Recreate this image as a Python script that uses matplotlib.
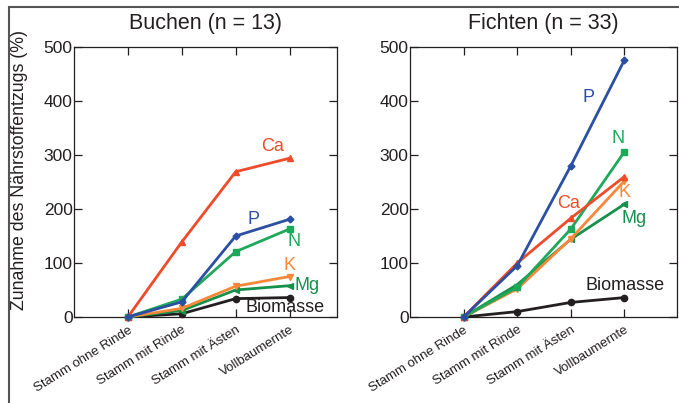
import matplotlib.pyplot as plt
from matplotlib.patches import Rectangle

plt.rcParams["font.family"] = ["Liberation Sans", "DejaVu Sans"]

stages = ["Stamm ohne Rinde", "Stamm mit Rinde", "Stamm mit Ästen", "Vollbaumernte"]
x_pos = [0, 1, 2, 3]

# Buchen (n = 13)
buchen = {
    "Ca": [0, 139, 269, 294],
    "P": [0, 28, 150, 181],
    "N": [0, 33, 121, 163],
    "K": [0, 16, 57, 75],
    "Mg": [0, 12, 50, 58],
    "Biomasse": [0, 6, 34, 36],
}
buchen_labels = {
    "Ca": (2.69, 315),
    "P": (2.33, 181),
    "N": (3.09, 139),
    "K": (3.0, 96),
    "Mg": (3.33, 59),
    "Biomasse": (2.91, 17),
}

# Fichten (n = 33)
fichten = {
    "P": [0, 95, 280, 476],
    "N": [0, 55, 163, 306],
    "Ca": [0, 100, 183, 260],
    "K": [0, 52, 145, 252],
    "Mg": [0, 60, 144, 209],
    "Biomasse": [0, 10, 27, 36],
}
fichten_labels = {
    "P": (2.33, 407),
    "N": (2.89, 331),
    "Ca": (1.96, 211),
    "K": (3.0, 230),
    "Mg": (3.18, 183),
    "Biomasse": (3.02, 59),
}

styles = {
    "Ca": ("#EE4B2B", "^"),
    "P": ("#2A4FA3", "D"),
    "N": ("#1EA85A", "s"),
    "K": ("#F7883A", "v"),
    "Mg": ("#16904A", "<"),
    "Biomasse": ("#231F20", "o"),
}
draw_order = ["Biomasse", "Mg", "K", "N", "Ca", "P"]

fig = plt.figure(figsize=(6.79, 4.03), dpi=100)
ax_left = fig.add_axes([74 / 679, 1 - 317 / 403, 263 / 679, 270 / 403])
ax_right = fig.add_axes([410 / 679, 1 - 317 / 403, 267 / 679, 270 / 403])

panels = [
    (ax_left, buchen, buchen_labels, "Buchen (n = 13)", 3.88),
    (ax_right, fichten, fichten_labels, "Fichten (n = 33)", 3.98),
]

for ax, data, labels, title, xmax in panels:
    for name in draw_order:
        color, marker = styles[name]
        ms = 3.5 if marker == "D" else 4.5
        ax.plot(x_pos, data[name], color=color, marker=marker, markersize=ms,
                linewidth=2.0, clip_on=False, zorder=3)
        lx, ly = labels[name]
        ax.text(lx, ly, name, color=color, fontsize=13, ha="center", va="center")

    ax.set_xlim(-1, xmax)
    ax.set_ylim(0, 500)
    ax.set_yticks([0, 100, 200, 300, 400, 500])
    ax.set_xticks(x_pos)
    ax.set_xticklabels(stages, rotation=32, ha="right", rotation_mode="anchor",
                       fontsize=9.5, color="#231F20")
    ax.tick_params(direction="in", length=6, width=0.9, top=True, right=True,
                   colors="#231F20", labelsize=12.5)
    ax.tick_params(axis="x", pad=5, labelsize=9.5)
    ax.tick_params(axis="y", pad=1)
    for spine in ax.spines.values():
        spine.set_linewidth(0.9)
        spine.set_color("#231F20")
    ax.set_title(title, fontsize=15.5, color="#231F20", pad=13)

ax_left.set_ylabel("Zunahme des Nährstoffentzugs (%)", fontsize=12.8,
                   color="#231F20")
ax_left.yaxis.set_label_coords(-0.175, 0.545)

fig.add_artist(Rectangle((9 / 679, -0.1), 1.0, 1.1 - 7 / 403,
                         transform=fig.transFigure, fill=False,
                         edgecolor="#555555", linewidth=1.5))

plt.savefig("out.png", dpi=100)
plt.close()
